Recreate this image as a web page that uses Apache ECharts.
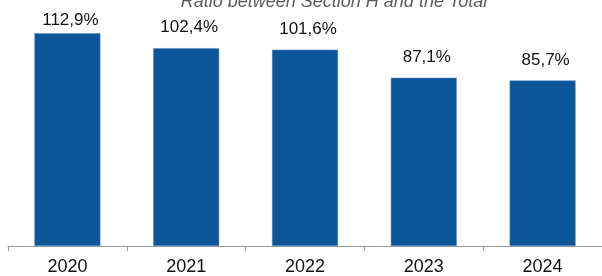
<!DOCTYPE html>
<html><head><meta charset="utf-8">
<script src="https://cdn.jsdelivr.net/npm/echarts@6/dist/echarts.min.js"></script>
<style>html,body{margin:0;padding:0;background:#fff}#c{width:602px;height:276px}</style>
</head><body><div id="c"></div>
<script>
var categories = ['2020', '2021', '2022', '2023', '2024'];
var values = [112.9, 102.4, 101.6, 87.1, 85.7];
var labelTexts = ['112,9%', '102,4%', '101,6%', '87,1%', '85,7%'];
var titleText = 'Ratio between Section H and the Total';

var chart = echarts.init(document.getElementById('c'));
chart.setOption({
  animation: false,
  title: {
    text: titleText, left: 329, top: -12, textAlign: 'center', padding: 5,
    textStyle: { fontFamily: 'Liberation Sans, Arial', fontStyle: 'italic', fontWeight: 'normal', fontSize: 18, color: '#5a5a5a' }
  },
  grid: { left: 8, right: -6, top: 33.5, bottom: 30 },
  xAxis: {
    type: 'category', data: categories,
    axisLine: { lineStyle: { color: '#999', width: 1 } },
    axisTick: { show: true, length: 5, lineStyle: { color: '#999' } },
    axisLabel: { fontFamily: 'Liberation Sans, Arial', fontSize: 18, color: '#111', margin: 12 }
  },
  yAxis: { type: 'value', min: 0, max: 110, show: false, splitLine: { show: false } },
  series: [{
    type: 'bar', barWidth: 66,
    data: values.map(function (v, i) {
      return { value: v, label: { distance: i === 0 ? 4 : 12 } };
    }),
    itemStyle: { color: '#0b5598', borderColor: '#5a8cc0', borderWidth: 0.5 },
    label: {
      show: true, position: 'top', offset: [3, 0],
      fontFamily: 'Liberation Sans, Arial', fontSize: 17, color: '#111',
      formatter: function (p) { return labelTexts[p.dataIndex]; }
    }
  }]
});
</script></body></html>
